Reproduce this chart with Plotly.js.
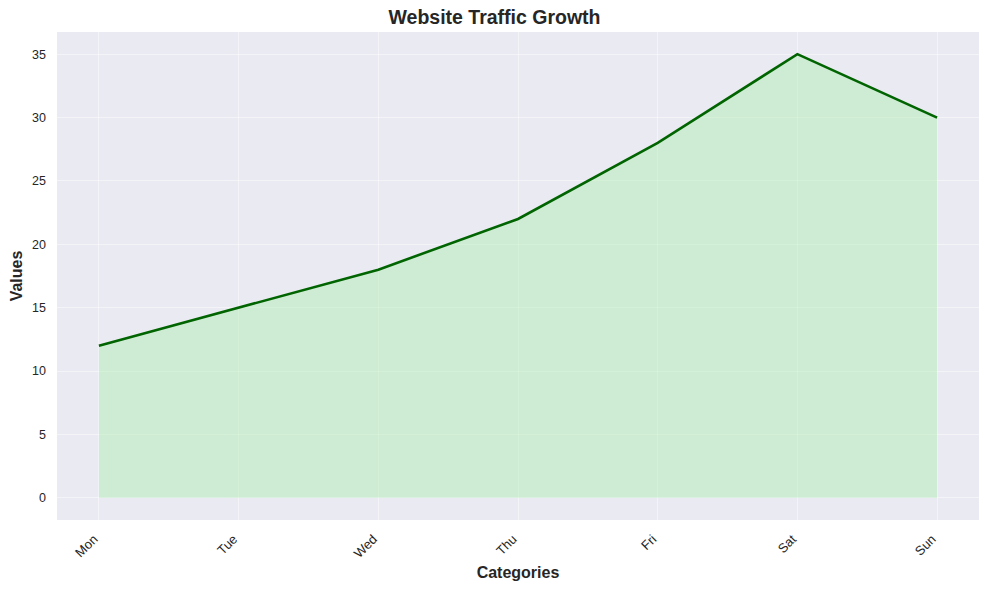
<!DOCTYPE html>
<html>
<head>
<meta charset="utf-8">
<script src="https://cdn.plot.ly/plotly-3.0.1.min.js"></script>
<style>html,body{margin:0;padding:0;background:#fff;}#chart{width:989px;height:590px;}</style>
</head>
<body>
<div id="chart"></div>
<script>
const categories = ["Mon", "Tue", "Wed", "Thu", "Fri", "Sat", "Sun"];
const values = [12, 15, 18, 22, 28, 35, 30];
const yTicks = [0, 5, 10, 15, 20, 25, 30, 35];

const xIdx = categories.map((c, i) => i);

const traces = [
  {
    x: xIdx, y: values, type: 'scatter', mode: 'lines',
    fill: 'tozeroy', fillcolor: 'rgba(144,238,144,0.3)',
    line: {color: '#006400', width: 2.6},
    hoverinfo: 'x+y', showlegend: false
  }
];

const font = "'Liberation Sans', Arial, sans-serif";
const layout = {
  width: 989, height: 590,
  margin: {l: 57, r: 10, t: 32, b: 70},
  paper_bgcolor: '#ffffff', plot_bgcolor: '#EAEAF2',
  font: {family: font, color: '#262626', size: 12},
  title: {text: '<b>Website Traffic Growth</b>', font: {size: 19.5, family: font, color: '#262626'}, x: 0.5, xanchor: 'center', y: 0.971, yanchor: 'middle'},
  xaxis: {
    range: [-0.3, 6.3], tickmode: 'array', tickvals: xIdx, ticktext: categories,
    tickangle: -45, showgrid: true, gridcolor: 'rgba(255,255,255,0.45)', gridwidth: 1,
    zeroline: false, showline: false, ticks: '', ticklen: 0, ticklabelstandoff: 8, ticklabelshift: -5,
    tickfont: {size: 13, color: '#262626'},
    title: {text: '<b>Categories</b>', font: {size: 16, color: '#262626'}, standoff: 6}
  },
  yaxis: {
    range: [-1.75, 36.75], tickmode: 'array', tickvals: yTicks,
    showgrid: true, gridcolor: 'rgba(255,255,255,0.45)', gridwidth: 1,
    zeroline: false, showline: false, ticks: '', ticklen: 0, ticklabelstandoff: 10,
    tickfont: {size: 12.5, color: '#262626'},
    title: {text: '<b>Values</b>', font: {size: 16, color: '#262626'}, standoff: 5}
  }
};

Plotly.newPlot('chart', traces, layout, {displayModeBar: false, staticPlot: true});
</script>
</body>
</html>
